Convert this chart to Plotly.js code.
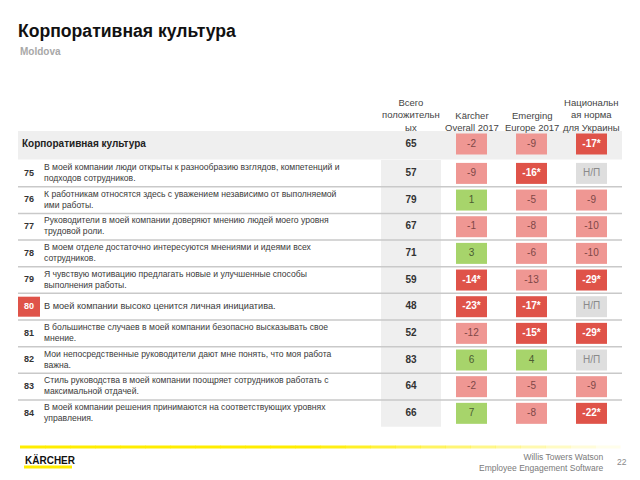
<!DOCTYPE html>
<html>
<head>
<meta charset="utf-8">
<script src="https://cdn.plot.ly/plotly-3.0.1.min.js"></script>
<style>html,body{margin:0;padding:0;background:#fff;}#chart{width:640px;height:480px;}</style>
</head>
<body>
<div id="chart"></div>
<script>
// ---------- DATA ----------
const sectionLabel = 'Корпоративная культура';
const rowNumbers = ['75','76','77','78','79','80','81','82','83','84'];
const questions = [
  'В моей компании люди открыты к разнообразию взглядов, компетенций и<br>подходов сотрудников.',
  'К работникам относятся здесь с уважением независимо от выполняемой<br>ими работы.',
  'Руководители в моей компании доверяют мнению людей моего уровня<br>трудовой роли.',
  'В моем отделе достаточно интересуются мнениями и идеями всех<br>сотрудников.',
  'Я чувствую мотивацию предлагать новые и улучшенные способы<br>выполнения работы.',
  'В моей компании высоко ценится личная инициатива.',
  'В большинстве случаев в моей компании безопасно высказывать свое<br>мнение.',
  'Мои непосредственные руководители дают мне понять, что моя работа<br>важна.',
  'Стиль руководства в моей компании поощряет сотрудников работать с<br>максимальной отдачей.',
  'В моей компании решения принимаются на соответствующих уровнях<br>управления.'
];
const highlightRow = [0,0,0,0,0,1,0,0,0,0];
// index 0 = section row, 1..10 = items 75..84
const totalPositive = [65,57,79,67,71,59,48,52,83,64,66];
const karcher       = [-2,-9,1,-1,3,-14,-23,-12,6,-2,7];
const karcherSig    = [0,0,0,0,0,1,1,0,0,0,0];
const emerging      = [-9,-16,-5,-8,-6,-13,-17,-15,4,-5,-8];
const emergingSig   = [0,1,0,0,0,0,1,1,0,0,0];
const national      = [-17,null,-9,-10,-10,-29,null,-29,null,-9,-22];
const nationalSig   = [1,0,0,0,0,1,0,1,0,0,1];
const colHeaders = ['Всего<br>положительн<br>ых','Kärcher<br>Overall 2017','Emerging<br>Europe 2017','Национальн<br>ая норма<br>для Украины'];
const naLabel = 'Н/П';

// ---------- LAYOUT HELPERS ----------
const FONT = 'Liberation Sans, Arial, sans-serif';
const colX = [411, 471.5, 531.5, 591.5];
const boxW = 31, boxH = 21, pitch = 26.66;
function rowY(i){ return i === 0 ? 144 : 173.4 + pitch*(i-1); }
const COLORS = {pos:'#a7d46b', neg:'#ef9793', sig:'#df5349', na:'#dedede'};
const TXT = {pos:'#4b5b32', neg:'#7e4747', sig:'#ffffff', na:'#8a8a8a'};
function cat(v, s){ if (v === null) return 'na'; if (s) return 'sig'; return v > 0 ? 'pos' : 'neg'; }

const traces = [];
const nRows = totalPositive.length;

// section row band
traces.push({type:'bar', x:[320], base:[131], y:[28.5], width:[604],
  marker:{color:'#efefef', line:{width:0}}, hoverinfo:'skip', showlegend:false});
// total column background cells
{
  const xs=[], bs=[], ys=[], ws=[];
  for (let i=1;i<nRows;i++){ xs.push(colX[0]); bs.push(rowY(i)-pitch/2); ys.push(pitch); ws.push(60); }
  traces.push({type:'bar', x:xs, base:bs, y:ys, width:ws,
    marker:{color:'#efefef', line:{width:0}}, hoverinfo:'skip', showlegend:false});
}
// score boxes
const series = [[karcher,karcherSig],[emerging,emergingSig],[national,nationalSig]];
{
  const xs=[], bs=[], ys=[], ws=[], cs=[], tx=[], ty=[], tt=[], tc=[];
  series.forEach((s, c) => {
    const vals = s[0], sig = s[1];
    for (let i=0;i<nRows;i++){
      const k = cat(vals[i], sig[i]);
      xs.push(colX[c+1]); bs.push(rowY(i)-boxH/2); ys.push(boxH); ws.push(boxW); cs.push(COLORS[k]);
      tx.push(colX[c+1]); ty.push(rowY(i));
      let t = vals[i] === null ? naLabel : String(vals[i]) + (sig[i] ? '*' : '');
      if (k === 'sig') t = '<b>' + t + '</b>';
      tt.push(t); tc.push(TXT[k]);
    }
  });
  traces.push({type:'bar', x:xs, base:bs, y:ys, width:ws,
    marker:{color:cs, line:{width:0}}, hoverinfo:'skip', showlegend:false});
  traces.push({type:'scatter', mode:'text', x:tx, y:ty, text:tt,
    textposition:'middle center', textfont:{family:FONT, size:10, color:tc},
    hoverinfo:'skip', showlegend:false});
}
// highlighted row-number box
{
  const xs=[], bs=[], ys=[], ws=[];
  highlightRow.forEach((h,i) => { if (h){ xs.push(29); bs.push(rowY(i+1)-10); ys.push(20); ws.push(22); } });
  traces.push({type:'bar', x:xs, base:bs, y:ys, width:ws,
    marker:{color:COLORS.sig, line:{width:0}}, hoverinfo:'skip', showlegend:false});
}
// totals text
traces.push({type:'scatter', mode:'text', x:totalPositive.map(()=>colX[0]),
  y:totalPositive.map((v,i)=>rowY(i)), text:totalPositive.map(v=>'<b>'+v+'</b>'),
  textposition:'middle center', textfont:{family:FONT, size:10, color:'#333'},
  hoverinfo:'skip', showlegend:false});
// row numbers
traces.push({type:'scatter', mode:'text', x:rowNumbers.map(()=>29),
  y:rowNumbers.map((v,i)=>rowY(i+1)), text:rowNumbers.map(v=>'<b>'+v+'</b>'),
  textposition:'middle center',
  textfont:{family:FONT, size:9, color:highlightRow.map(h=>h?'#ffffff':'#333333')},
  hoverinfo:'skip', showlegend:false});
// questions
traces.push({type:'scatter', mode:'text', x:questions.map(()=>44),
  y:questions.map((v,i)=>rowY(i+1)), text:questions,
  textposition:'middle right',
  textfont:{family:FONT, size:highlightRow.map(h=>h?9.2:8.6), color:'#3a3a3a'},
  hoverinfo:'skip', showlegend:false});
// section label
traces.push({type:'scatter', mode:'text', x:[22], y:[rowY(0)], text:['<b>'+sectionLabel+'</b>'],
  textposition:'middle right', textfont:{family:FONT, size:10, color:'#222'},
  hoverinfo:'skip', showlegend:false});

// ---------- SHAPES ----------
const shapes = [];
for (let i=1;i<nRows-1;i++){
  const y = rowY(i)+pitch/2;
  shapes.push({type:'line', xref:'x', yref:'y', x0:18, x1:622, y0:y, y1:y,
    line:{color:'#c9c9c9', width:1.5}, layer:'above'});
}
// footer yellow line (fading)
const segs = 24;
for (let k=0;k<segs;k++){
  const x0 = 20 + k*(600/segs), x1 = x0 + 600/segs + 0.5;
  const op = k < 12 ? 1 : Math.max(0.06, 1 - (k-11)/(segs-11));
  shapes.push({type:'line', xref:'x', yref:'y', x0:x0, x1:x1, y0:447, y1:447,
    line:{color:'rgba(255,237,0,'+op.toFixed(2)+')', width:3}, layer:'above'});
}
shapes.push({type:'line', xref:'x', yref:'y', x0:24, x1:72, y0:467, y1:467,
  line:{color:'#ffed00', width:3}});

// ---------- ANNOTATIONS ----------
const annotations = colHeaders.map((t,c)=>({xref:'x', yref:'y', x:colX[c], y:135,
  xanchor:'center', yanchor:'bottom', text:t, showarrow:false, align:'center',
  font:{family:FONT, size:9.5, color:'#444'}}));
annotations.push({xref:'x', yref:'y', x:18, y:51, xanchor:'left', yanchor:'middle',
  text:'<b>Moldova</b>', showarrow:false, font:{family:FONT, size:10, color:'#a8a8a8'}});
annotations.push({xref:'x', yref:'y', x:23, y:460, xanchor:'left', yanchor:'middle',
  text:'<b>KÄRCHER</b>', showarrow:false, font:{family:FONT, size:10, color:'#111'}});
annotations.push({xref:'x', yref:'y', x:606, y:462, xanchor:'right', yanchor:'middle',
  text:'Willis Towers Watson<br>Employee Engagement Software', showarrow:false, align:'right',
  font:{family:FONT, size:8.5, color:'#7a7a7a'}});
annotations.push({xref:'x', yref:'y', x:622, y:462, xanchor:'center', yanchor:'middle',
  text:'22', showarrow:false, font:{family:FONT, size:8.5, color:'#8a8a8a'}});

const layout = {
  width:640, height:480, autosize:false,
  margin:{l:0, r:0, t:0, b:0, pad:0},
  paper_bgcolor:'#ffffff', plot_bgcolor:'#ffffff',
  title:{text:'<b>Корпоративная культура</b>', x:18/640, xanchor:'left', xref:'paper',
    y:1-31/480, yanchor:'middle', yref:'paper', font:{family:FONT, size:17.6, color:'#111'}},
  barmode:'overlay', showlegend:false,
  xaxis:{range:[0,640], visible:false, fixedrange:true},
  yaxis:{range:[480,0], visible:false, fixedrange:true},
  shapes:shapes, annotations:annotations
};
Plotly.newPlot('chart', traces, layout, {displayModeBar:false, staticPlot:true});
</script>
</body>
</html>
